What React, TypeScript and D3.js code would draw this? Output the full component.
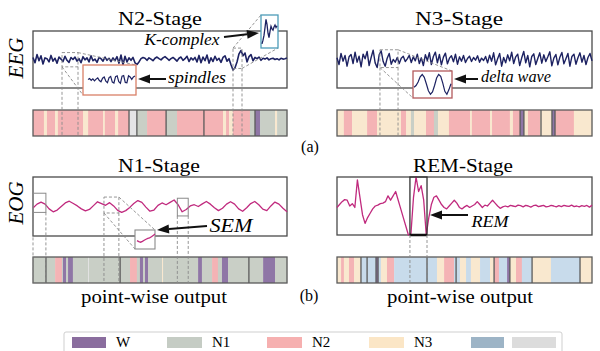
import * as d3 from "d3";

const FONT = "'Liberation Serif', 'Times New Roman', Times, serif";

// ---- signals (arbitrary units) ----
const eegN2 = [
  0.5, -0.8, 1.2, -0.3, 0.9, -1.1, 0.4, 0.2, -0.6, 1.0, -0.4, 0.3, -0.9, 0.6, 0.1, -0.5, 0.8, -0.2, -0.7, 0.5, 0.0,
  0.6, -0.4, 0.2, -0.8, 0.7, -0.1, 0.4, -0.6, 0.9, -0.3, 0.1, -0.7, 0.5, 0.2, -0.4, 0.6, -0.2, 0.3, -0.5, 0.4,
  -0.3, 0.7, -0.9, 1.1, -1.3, 0.8, -0.6, 0.4, -0.2, 0.5, -0.8, -1.2, -0.6, 0.2, 0.5, 0.3, -0.2, 0.4, 0.1, -0.3,
  0.3, 0.6, 0.2, -0.1, 0.4, 0.7, 0.3, -0.2, 0.2, 0.5, 0.1, -0.4, 0.3, 0.6, -0.2, 0.2, 0.8, -0.5, 0.4, -0.1,
  0.5, -0.6, 1.0, -0.8, 0.6, -0.3, 1.1, -0.9, 0.4, -0.5, 0.8, -0.2, 0.3, -0.7, 0.5, 0.9, -0.4, 0.2, -1.3, -2.6,
  -2.0, -0.6, 1.4, 2.2, 0.9, 1.6, -0.6, 0.7, 1.2, -0.3, 0.5, 0.2, 0.6, -0.2, 0.3, 0.1, 0.4, -0.1, 0.2, 0.3, 0.0,
  0.2, -0.1, 0.3, 0.1, 0.2, 0.4,
];
const eegN3 = [
  0.5, -1.5, 1.8, -0.5, 1.2, -2.0, 0.8, 1.5, -1.2, 2.2,
  -0.8, 1.0, -2.2, 1.6, 0.2, 2.4, -1.8, 0.6, 2.8, -1.0,
  -2.4, 1.4, 2.6, -0.6, -2.0, 0.4, 1.8, -1.4, 0.0, -0.8,
  0.6, -1.2, 0.4, 1.0, -0.6, 0.2, 1.2, -0.9, 0.8, -0.4,
  1.6, -1.2, 0.5, -1.8, 1.4, -0.3, 2.0, -1.5, 0.9, 2.2,
  -1.0, 1.5, -1.6, 0.7, 1.9, -1.3, 0.4, 1.1, -0.7, 1.6,
  -1.4, 0.8, -0.5, 1.2, -0.9, 0.3, 1.0, -0.6, 0.6, -0.2,
  1.1, -0.8, 0.4, -0.3, 0.9, -1.0, 1.3, -0.5, 2.0, -1.6,
  0.2, 1.8, -2.0, 0.6, -1.0, 1.4, -0.4, 2.2, -1.2, 0.8,
  1.6, -1.8, 0.5, 2.4, -1.0, 1.2, -2.2, 0.9, 1.7, -1.5,
  0.3, 2.0, -1.1, 1.4, -0.6, 0.8, 2.3, -1.9, 0.4, 1.5,
  -1.6, 0.7, 2.1, -1.3, 0.2, 1.8, -2.0, 0.9, 1.6, -1.4,
  0.5, 2.0, -0.8, 1.2, -1.5, 0.6, 1.8, -0.4,
];
const eogN1 = [
  -0.5, 0.8, 1.5, 0.8, -0.8, -1.8, -1.2, 0.0, 1.2, 1.8, 1.0, 0.2, -0.8, -1.5, -1.0, 0.3,
  1.6, 1.0, 0.4, 1.3, 0.2, -1.3, -2.0, -1.4, -0.3, 1.0, 2.0, 1.4, -0.2, -1.6, -1.2, 0.4,
  1.2, 0.6, 1.4, 2.2, 0.6, -1.8, -1.0, 0.2, 0.6, 0.0, 0.9, 1.7, 0.8, -0.4, -1.4, -0.6,
  0.8, 1.6, 0.8, -0.8, -1.6, -0.4, 1.0, 1.7, 0.6, -0.9, -1.4, 0.2, 1.5, 0.8, -0.6, -1.8,
];
const eogREM = [
  -0.5, 0.5, 1.5, 2.2, 2.0, 0.0, 0.8, -0.5, 9.0, 3.0, -3.0, -6.0, -4.0, -2.5, -1.0, 0.0,
  0.3, 0.8, 1.0, 1.5, 3.5, 2.0, 3.5, 5.0, 2.0, -1.0, -4.0, -7.0, -10.0, -9.5, 3.0, 10.0,
  5.0, 7.0, 2.0, -10.0, -4.0, 0.5, 3.0, 3.5, 2.0, 0.5, -0.5, -1.0, 0.0, 1.0, 2.0, 1.0,
  -0.5, -1.0, -0.3, 0.2, -0.5, 0.0, 0.5, 1.5, 0.5, -0.5, 0.3, 0.0, 1.0, 2.0, 1.0, 0.0,
  -0.8, -0.3, 0.0, -0.3, 0.2, 0.0, -0.2, 0.3, 0.1, -0.3, 0.2, 0.0, -0.4, 0.1, 0.3, -0.2,
  0.0, 0.2, -0.3, -0.1, 0.2, 0.0, -0.3, 0.1, -0.2, 0.2, 0.0, -0.1, 0.3, -0.2, 0.0, -0.3,
  0.1, -0.1, 0.2, -0.4, 0.3,
];

// zoomed-in snippets
const spindleInset = [0.2, 0.5, -0.1, 0.4, -0.3, 0.3, 0.7, -0.2, -0.6, 0.6, 1.0, -0.4, -0.9, 0.8, 1.2, -0.7, -1.0, 1.1, 1.4, -0.6, -1.1, 1.3, 1.5, -0.8, -0.9, 1.4, 1.0, 0.2, 1.0, 1.3];
const kComplexInset = [-3.2, -2.0, -0.5, 2.0, 4.6, 3.0, 0.2, -1.2, 0.8, 2.4, 1.6, 1.2, 2.2, 2.8, 2.0, 2.6];
const deltaInset = [-0.8, -0.2, 1.0, 2.8, 3.6, 2.6, 0.4, -2.0, -3.2, -2.4, -0.2, 2.4, 3.6, 3.0, 0.6, -2.2, -3.2, -1.6, 0.4];
const semInset = [-0.4, -0.8, -1.0, -0.7, -0.3, 0.1, 0.4, 0.6, 1.0, 1.5, 2.0];

// ---- point-wise output strips: [stage, end (0-100)] ----
type Seg = [string, number];
const stripN2: Seg[] = [["N2", 4.3], ["N3", 5.5], ["N2", 8.7], ["N3", 9.8], ["N2", 19.7], ["N3", 21.7], ["N2", 27.6], ["N3", 28.3], ["N2", 32.3], ["N3", 33.5], ["N2", 37.8], ["U", 40.9], ["N1", 44.9], ["N2", 52.4], ["N1", 56.7], ["N2", 74.8], ["N3", 76.0], ["N2", 77.2], ["N3", 78.7], ["N2", 85.4], ["N1", 87.4], ["W", 89.4], ["N1", 95.3], ["N3", 96.1], ["N1", 100]];
const dividersN2 = [37.8, 40.9, 52.4, 67.3, 87.4];
const stripN3: Seg[] = [["N3", 2.7], ["N2", 5.9], ["N3", 11.8], ["N2", 15.7], ["N3", 25.1], ["N2", 27.1], ["N3", 29.0], ["N1", 30.2], ["N3", 34.9], ["N2", 38.0], ["N1", 39.6], ["N3", 43.9], ["N2", 52.2], ["N3", 52.9], ["N2", 60.0], ["N3", 60.8], ["N2", 67.8], ["N3", 69.0], ["N2", 71.8], ["W", 73.3], ["N3", 74.9], ["N2", 79.6], ["N3", 84.3], ["W", 85.5], ["N2", 92.9], ["N3", 100]];
const dividersN3 = [71.8, 73.3, 80.0, 84.3, 85.5];
const stripN1: Seg[] = [["N1", 4.7], ["N1", 8.7], ["N2", 11.4], ["N1", 11.8], ["W", 13.0], ["N1", 13.8], ["W", 15.7], ["N1", 21.7], ["U", 22.0], ["N1", 38.2], ["N2", 40.9], ["N1", 42.1], ["W", 43.3], ["N1", 44.1], ["W", 45.3], ["N1", 50.8], ["N3", 51.2], ["N1", 65.0], ["W", 66.5], ["N1", 70.5], ["N2", 72.8], ["N1", 74.4], ["W", 76.8], ["N1", 90.6], ["W", 95.3], ["N1", 100]];
const dividersN1 = [5.1, 34.3, 85.0];
const stripREM: Seg[] = [["N3", 1.6], ["N2", 2.7], ["N3", 4.7], ["N2", 6.7], ["N3", 9.4], ["R", 15.3], ["W", 16.1], ["R", 17.2], ["N3", 19.6], ["N2", 22.4], ["R", 39.2], ["N3", 42.0], ["N2", 45.9], ["R", 48.2], ["N3", 50.6], ["R", 52.5], ["N3", 56.1], ["R", 60.0], ["N3", 61.6], ["N2", 63.5], ["R", 66.7], ["W", 67.8], ["N3", 70.2], ["N2", 72.5], ["R", 76.5], ["N3", 83.9], ["R", 95.3], ["N3", 100]];
const dividersREM = [9.4, 11.8, 15.3, 16.1, 35.3, 46.7, 61.6, 67.8, 76.5, 95.3];

const STAGE_COLOR: Record<string, string> = {
  W: "#8f76a6",
  N1: "#c9cfc6",
  N2: "#f4b3b5",
  N3: "#f9e8cf",
  R: "#c8dbeb",
  U: "#e4e4e6",
};

const legendLabels = ["W", "N1", "N2", "N3", "", ""];
const legendColors = ["#8a6d9e", "#c5ccc4", "#f6b0b0", "#fbe6c6", "#9db4c6", "#dcdcdc"];

const EEG_COLOR = "#1d2262";
const EOG_COLOR = "#c02a7e";

function Strip({ segs, dividers, x0, x1, y0, y1 }: any) {
  const x = d3.scaleLinear().domain([0, 100]).range([x0, x1]);
  const starts = segs.map((_: Seg, i: number) => (i === 0 ? 0 : segs[i - 1][1]));
  return (
    <g>
      {segs.map(([s, end]: Seg, i: number) => (
        <rect key={i} x={x(starts[i])} y={y0} width={x(end) - x(starts[i]) + 0.3} height={y1 - y0} fill={STAGE_COLOR[s]} />
      ))}
      {dividers.map((d: number, i: number) => (
        <line key={"d" + i} x1={x(d)} x2={x(d)} y1={y0} y2={y1} stroke="#5a5a5a" strokeWidth={1.3} />
      ))}
      <rect x={x0} y={y0} width={x1 - x0} height={y1 - y0} fill="none" stroke="#5a5a5a" strokeWidth={1.3} />
    </g>
  );
}

function trace(data: number[], x0: number, x1: number, y0: number, y1: number, domain: [number, number]) {
  const x = d3.scaleLinear().domain([0, data.length - 1]).range([x0, x1]);
  const y = d3.scaleLinear().domain(domain).range([y1, y0]);
  const line = d3.line<number>().x((_, i) => x(i)).y((d) => y(d));
  return { x, y, d: line(data) || "" };
}

function Arrow({ x1, y1, x2, y2 }: any) {
  const a = Math.atan2(y2 - y1, x2 - x1);
  const L = 12, W = 4.5;
  const bx = x2 - L * Math.cos(a), by = y2 - L * Math.sin(a);
  const pts = [
    [x2, y2],
    [bx + W * Math.sin(a), by - W * Math.cos(a)],
    [bx - W * Math.sin(a), by + W * Math.cos(a)],
  ];
  return (
    <g>
      <line x1={x1} y1={y1} x2={bx} y2={by} stroke="#111" strokeWidth={2} />
      <polygon points={pts.map((p) => p.join(",")).join(" ")} fill="#111" />
    </g>
  );
}

const dash = { stroke: "#8a8a8a", strokeWidth: 0.9, strokeDasharray: "3,2", fill: "none" };

export default function App() {
  // boxes
  const A = { x0: 33, x1: 287, y0: 31, y1: 88 };
  const B = { x0: 337, x1: 592, y0: 31, y1: 88 };
  const C = { x0: 33, x1: 287, y0: 177, y1: 236 };
  const D = { x0: 337, x1: 592, y0: 177, y1: 235 };
  const sTop = { y0: 110, y1: 136 };
  const sBot = { y0: 257, y1: 283 };

  const tA = trace(eegN2, A.x0, A.x1, A.y0, A.y1, [-7, 7]);
  const tB = trace(eegN3, B.x0, B.x1, B.y0, B.y1, [-8.5, 8.5]);
  const tC = trace(eogN1, C.x0, C.x1, C.y0, C.y1, [-10, 10]);
  const tD = trace(eogREM, D.x0, D.x1, D.y0, D.y1, [-10, 10]);

  // insets
  const spBox = { x0: 83, x1: 136, y0: 65, y1: 95 };
  const kBox = { x0: 261, x1: 278, y0: 15, y1: 48 };
  const dBox = { x0: 413, x1: 452, y0: 71, y1: 98 };
  const semBox = { x0: 135, x1: 155, y0: 230, y1: 249 };
  const iSp = trace(spindleInset, spBox.x0 + 5, spBox.x1 - 1, spBox.y0, spBox.y1, [-5, 5]);
  const iK = trace(kComplexInset, kBox.x0 + 1, kBox.x1 - 1, kBox.y0, kBox.y1, [-4.5, 6]);
  const iD = trace(deltaInset, dBox.x0 + 1, dBox.x1 - 1, dBox.y0, dBox.y1, [-4.5, 4.8]);
  const iS = trace(semInset, semBox.x0 + 2, semBox.x1, semBox.y0, semBox.y1, [-3.5, 3.5]);

  // highlighted regions (sample index, value)
  const hSp = { x0: tA.x(14.5), x1: tA.x(22.5), y0: tA.y(1.7), y1: tA.y(-1.8) };
  const hK = { x0: tA.x(100), x1: tA.x(104.5), y0: tA.y(2.8), y1: tA.y(-2.2) };
  const hD = { x0: tB.x(21.4), x1: tB.x(30.4), y0: tB.y(2.9), y1: tB.y(-2.4) };
  const hL = { x0: tC.x(0), x1: tC.x(3.2), y0: tC.y(4.5), y1: tC.y(-2) };
  const hM = { x0: tC.x(17.6), x1: tC.x(21.3), y0: tC.y(3.2), y1: tC.y(-2.2) };
  const hR = { x0: tC.x(35.8), x1: tC.x(38.5), y0: tC.y(2.8), y1: tC.y(-3.2) };
  const hREM = { x0: tD.x(28.6), x1: tD.x(35.3) };

  const rectOf = (r: any) => ({ x: r.x0, y: r.y0, width: r.x1 - r.x0, height: r.y1 - r.y0 });

  const legendX = [72, 167, 267, 369, 471, 512];
  const legendW = [34, 35, 35, 35, 33, 44];

  return (
    <svg width={600} height={351} style={{ position: "absolute", left: 0, top: 0, background: "#fff", fontFamily: FONT }}>
      {/* titles */}
      <text x={160} y={25} textAnchor="middle" fontSize={19} textLength={84} lengthAdjust="spacingAndGlyphs">N2-Stage</text>
      <text x={459} y={25} textAnchor="middle" fontSize={19} textLength={88} lengthAdjust="spacingAndGlyphs">N3-Stage</text>
      <text x={159} y={172} textAnchor="middle" fontSize={19} textLength={82} lengthAdjust="spacingAndGlyphs">N1-Stage</text>
      <text x={463} y={172} textAnchor="middle" fontSize={19} textLength={100} lengthAdjust="spacingAndGlyphs">REM-Stage</text>

      <text transform="translate(23,58) rotate(-90)" textAnchor="middle" fontSize={21} fontStyle="italic">EEG</text>
      <text transform="translate(23,203) rotate(-90)" textAnchor="middle" fontSize={21} fontStyle="italic">EOG</text>

      {/* boxes */}
      {[A, B, C, D].map((b, i) => (
        <rect key={i} x={b.x0} y={b.y0} width={b.x1 - b.x0} height={b.y1 - b.y0} fill="#fff" stroke="#4a4a4a" strokeWidth={1.3} />
      ))}

      {/* strips */}
      <Strip segs={stripN2} dividers={dividersN2} x0={A.x0} x1={A.x1} {...sTop} />
      <Strip segs={stripN3} dividers={dividersN3} x0={B.x0} x1={B.x1} {...sTop} />
      <Strip segs={stripN1} dividers={dividersN1} x0={C.x0} x1={C.x1} {...sBot} />
      <Strip segs={stripREM} dividers={dividersREM} x0={D.x0} x1={D.x1} {...sBot} />

      {/* traces */}
      <path d={tA.d} fill="none" stroke={EEG_COLOR} strokeWidth={1.6} strokeLinejoin="round" />
      <path d={tB.d} fill="none" stroke={EEG_COLOR} strokeWidth={1.4} strokeLinejoin="round" />
      <path d={tC.d} fill="none" stroke={EOG_COLOR} strokeWidth={1.3} strokeLinejoin="round" />
      <path d={tD.d} fill="none" stroke={EOG_COLOR} strokeWidth={1.3} strokeLinejoin="round" />

      {/* N2 annotations */}
      <rect {...rectOf(hSp)} {...dash} />
      <line x1={hSp.x1} y1={hSp.y0} x2={spBox.x1} y2={spBox.y0} {...dash} />
      <line x1={hSp.x0} y1={hSp.y1} x2={spBox.x0} y2={spBox.y1} {...dash} />
      <line x1={hSp.x0} y1={hSp.y1} x2={hSp.x0} y2={sTop.y1} {...dash} />
      <line x1={hSp.x1} y1={hSp.y1} x2={hSp.x1} y2={sTop.y1} {...dash} />
      <rect {...rectOf(hK)} {...dash} />
      <line x1={hK.x0} y1={hK.y0} x2={kBox.x0} y2={kBox.y0} {...dash} />
      <line x1={hK.x1} y1={hK.y1} x2={kBox.x1} y2={kBox.y1} {...dash} />
      <line x1={hK.x0} y1={hK.y1} x2={hK.x0} y2={sTop.y1} {...dash} />
      <line x1={hK.x1} y1={hK.y1} x2={hK.x1} y2={sTop.y1} {...dash} />
      <rect {...rectOf(spBox)} fill="#fff" stroke="#d98068" strokeWidth={1.3} />
      <path d={iSp.d} fill="none" stroke={EEG_COLOR} strokeWidth={1.2} />
      <rect {...rectOf(kBox)} fill="#fff" stroke="#4d9cb8" strokeWidth={1.3} />
      <path d={iK.d} fill="none" stroke={EEG_COLOR} strokeWidth={1.3} />
      <text x={182} y={45} textAnchor="middle" fontSize={16} fontStyle="italic" textLength={75} lengthAdjust="spacingAndGlyphs">K-complex</text>
      <Arrow x1={224} y1={37} x2={259} y2={33} />
      <text x={197} y={83} textAnchor="middle" fontSize={16} fontStyle="italic" textLength={58} lengthAdjust="spacingAndGlyphs">spindles</text>
      <Arrow x1={166} y1={79} x2={138} y2={79} />

      {/* N3 annotations */}
      <rect {...rectOf(hD)} {...dash} />
      <line x1={hD.x1} y1={hD.y0} x2={dBox.x1} y2={dBox.y0} {...dash} />
      <line x1={hD.x0} y1={hD.y1} x2={dBox.x0} y2={dBox.y1} {...dash} />
      <line x1={hD.x0} y1={hD.y1} x2={hD.x0} y2={sTop.y1} {...dash} />
      <line x1={hD.x1} y1={hD.y1} x2={hD.x1} y2={sTop.y1} {...dash} />
      <rect {...rectOf(dBox)} fill="#fff" stroke="#b35a5c" strokeWidth={1.3} />
      <path d={iD.d} fill="none" stroke={EEG_COLOR} strokeWidth={1.2} />
      <text x={516} y={82} textAnchor="middle" fontSize={16} fontStyle="italic" textLength={70} lengthAdjust="spacingAndGlyphs">delta wave</text>
      <Arrow x1={478} y1={79} x2={454} y2={79} />

      {/* N1 annotations */}
      <rect {...rectOf(hL)} fill="none" stroke="#8a8a8a" strokeWidth={1} />
      <rect {...rectOf(hR)} fill="none" stroke="#8a8a8a" strokeWidth={1} />
      <rect {...rectOf(hM)} {...dash} />
      <line x1={hM.x1} y1={hM.y0} x2={semBox.x1} y2={semBox.y0} {...dash} />
      <line x1={hM.x0} y1={hM.y1} x2={semBox.x0} y2={semBox.y1} {...dash} />
      {[hL, hM, hR].map((h, i) => (
        <g key={i}>
          <line x1={h.x0} y1={h.y1} x2={h.x0} y2={sBot.y1} {...dash} />
          <line x1={h.x1} y1={h.y1} x2={h.x1} y2={sBot.y1} {...dash} />
        </g>
      ))}
      <rect {...rectOf(semBox)} fill="#fff" stroke="#8a8a8a" strokeWidth={1.1} />
      <path d={iS.d} fill="none" stroke={EOG_COLOR} strokeWidth={1.3} />
      <text x={231} y={232} textAnchor="middle" fontSize={18} fontStyle="italic" textLength={43} lengthAdjust="spacingAndGlyphs">SEM</text>
      <Arrow x1={207} y1={226} x2={157} y2={230} />

      {/* REM annotations */}
      <rect x={hREM.x0} y={D.y0} width={hREM.x1 - hREM.x0} height={D.y1 - D.y0} fill="none" stroke="#333" strokeWidth={1.3} />
      <line x1={hREM.x0} y1={D.y1} x2={hREM.x1} y2={D.y1} stroke="#111" strokeWidth={2.5} />
      <line x1={hREM.x0} y1={D.y1} x2={hREM.x0} y2={sBot.y1} {...dash} />
      <line x1={hREM.x1} y1={D.y1} x2={hREM.x1} y2={sBot.y1} {...dash} />
      <text x={490} y={227} textAnchor="middle" fontSize={16} fontStyle="italic" textLength={37} lengthAdjust="spacingAndGlyphs">REM</text>
      <Arrow x1={468} y1={215} x2={430} y2={215} />

      {/* panel tags */}
      <text x={310} y={152} textAnchor="middle" fontSize={16}>(a)</text>
      <text x={309} y={301} textAnchor="middle" fontSize={16}>(b)</text>
      <text x={154} y={303} textAnchor="middle" fontSize={19} textLength={146} lengthAdjust="spacingAndGlyphs">point-wise output</text>
      <text x={460} y={303} textAnchor="middle" fontSize={19} textLength={146} lengthAdjust="spacingAndGlyphs">point-wise output</text>

      {/* legend */}
      <rect x={64} y={332} width={498} height={22} fill="#fff" stroke="#cfcfcf" strokeWidth={1} rx={2} />
      {legendLabels.map((lab, i) => (
        <g key={i}>
          <rect x={legendX[i]} y={337} width={legendW[i]} height={11} fill={legendColors[i]} />
          {lab && (
            <text x={legendX[i] + legendW[i] + 10} y={347} fontSize={15}>{lab}</text>
          )}
        </g>
      ))}
    </svg>
  );
}
